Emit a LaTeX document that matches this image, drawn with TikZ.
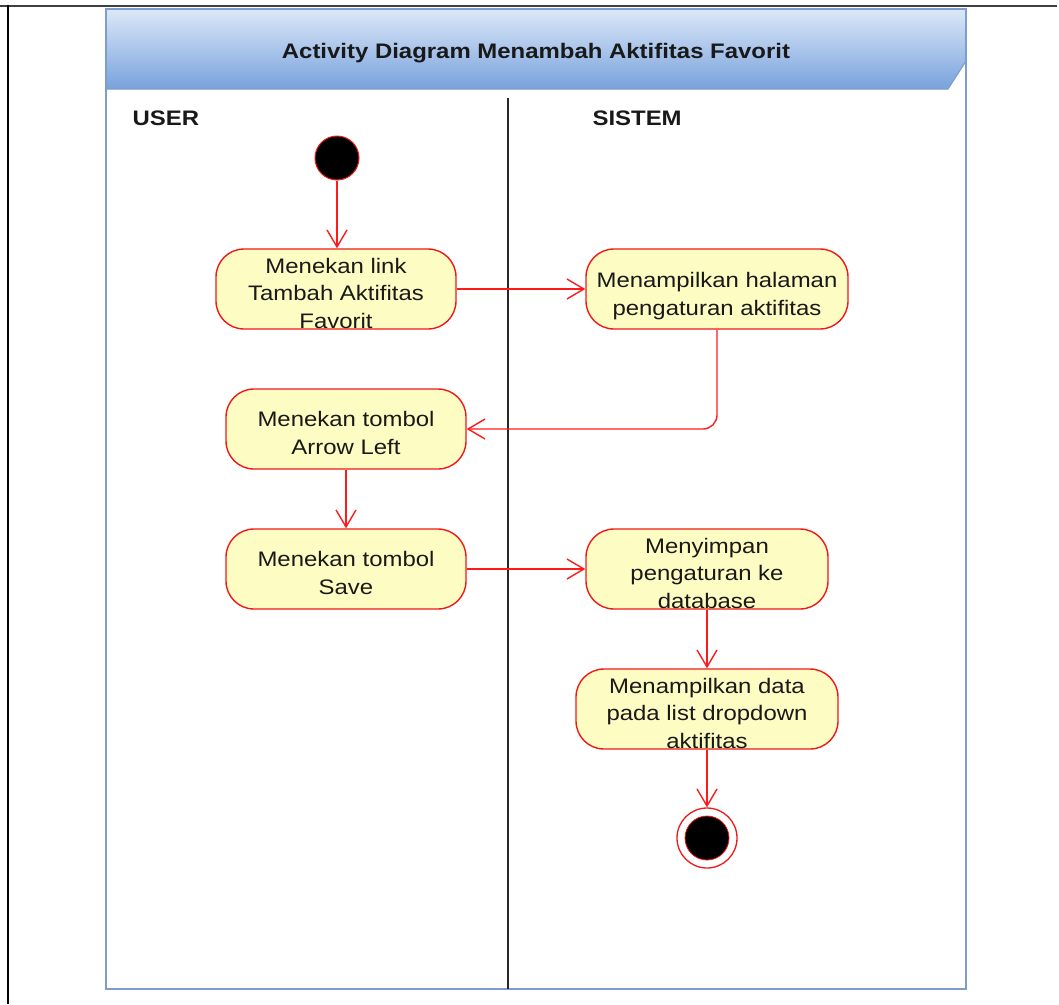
\documentclass[tikz,border=0pt]{standalone}
\usepackage{fontspec}
\setmainfont[FakeStretch=1.14]{Liberation Sans}
\usetikzlibrary{arrows.meta}
\definecolor{laneblue}{HTML}{7F9DCC}
\definecolor{headtop}{HTML}{DCE8F8}
\definecolor{headbot}{HTML}{78A2DC}
\definecolor{actfill}{HTML}{FDFCC2}
\definecolor{actred}{HTML}{F01818}
\definecolor{flowred}{HTML}{FF1A1A}
\begin{document}
\begin{tikzpicture}[x=1pt,y=-1pt,
  activity/.style={draw=actred, line width=1.4pt, fill=actfill, rounded corners=28pt,
    minimum height=80pt, inner sep=0pt},
  acttext/.style={align=center, text=black!90,
    font=\fontsize{21}{27.5}\selectfont, inner sep=0pt},
  flow/.style={draw=flowred, line width=1.4pt,
    -{Straight Barb[length=17pt,width=20pt,line width=1.4pt]}},
  lanelabel/.style={font=\fontsize{21}{25}\selectfont\bfseries, anchor=west, text=black!90}]
  \useasboundingbox (0,0) rectangle (1059,1004);
  % page frame
  \draw[black!75, line width=2pt] (0,5.5) -- (1057,5.5);
  \draw[black, line width=2pt] (8,5) -- (8,1004);
  % swimlane frame and header
  \shade[top color=headtop, bottom color=headbot]
    (106,9) -- (966,9) -- (966,61) -- (948,89) -- (106,89) -- cycle;
  \draw[laneblue, line width=1.2pt] (106,89) -- (948,89) -- (966,61);
  \draw[laneblue, line width=2pt] (106,9) rectangle (966,989);
  \node[font=\fontsize{21}{25}\selectfont\bfseries, text=black!90] (title) at (536,53.5)
    {Activity Diagram Menambah Aktifitas Favorit};
  \node[lanelabel] (user) at (129,118.5) {USER};
  \node[lanelabel] (sistem) at (589,118.5) {SISTEM};
  \draw[black!85, line width=2pt] (508,98) -- (508,989);
  % start and end
  \node[circle, fill=black, draw=actred, line width=1pt, minimum size=44pt, inner sep=0pt] (start) at (337,158) {};
  \node[circle, draw=actred, line width=1.3pt, minimum size=60pt, inner sep=0pt] (finish) at (707,838) {};
  \node[circle, fill=black, draw=actred, line width=0.8pt, minimum size=44pt, inner sep=0pt] (finishdot) at (707,838) {};
  % activities
  \node[activity, minimum width=240pt] (a1) at (336,289) {};
  \node[activity, minimum width=262pt] (a2) at (717,289) {};
  \node[activity, minimum width=240pt] (a3) at (346,429) {};
  \node[activity, minimum width=240pt] (a4) at (346,569) {};
  \node[activity, minimum width=242pt] (a5) at (707,569) {};
  \node[activity, minimum width=262pt] (a6) at (707,709) {};
  \node[acttext] (a1t) at ([yshift=-4pt]a1.center) {Menekan link\\Tambah Aktifitas\\Favorit};
  \node[acttext] (a2t) at ([yshift=-7pt]a2.center) {Menampilkan halaman\\pengaturan aktifitas};
  \node[acttext] (a3t) at ([yshift=-4pt]a3.center) {Menekan tombol\\Arrow Left};
  \node[acttext] (a4t) at ([yshift=-4pt]a4.center) {Menekan tombol\\Save};
  \node[acttext] (a5t) at ([yshift=-4pt]a5.center) {Menyimpan\\pengaturan ke\\database};
  \node[acttext] (a6t) at ([yshift=-4pt]a6.center) {Menampilkan data\\pada list dropdown\\aktifitas};
  % flows
  \draw[flow] (start) -- (a1.north -| start);
  \draw[flow] (a1) -- (a2);
  \draw[flow, rounded corners=14pt] (a2.south) |- (a3.east);
  \draw[flow] (a3) -- (a4);
  \draw[flow] (a4) -- (a5);
  \draw[flow] (a5) -- (a6);
  \draw[flow] (a6) -- (finish);
\end{tikzpicture}
\end{document}
